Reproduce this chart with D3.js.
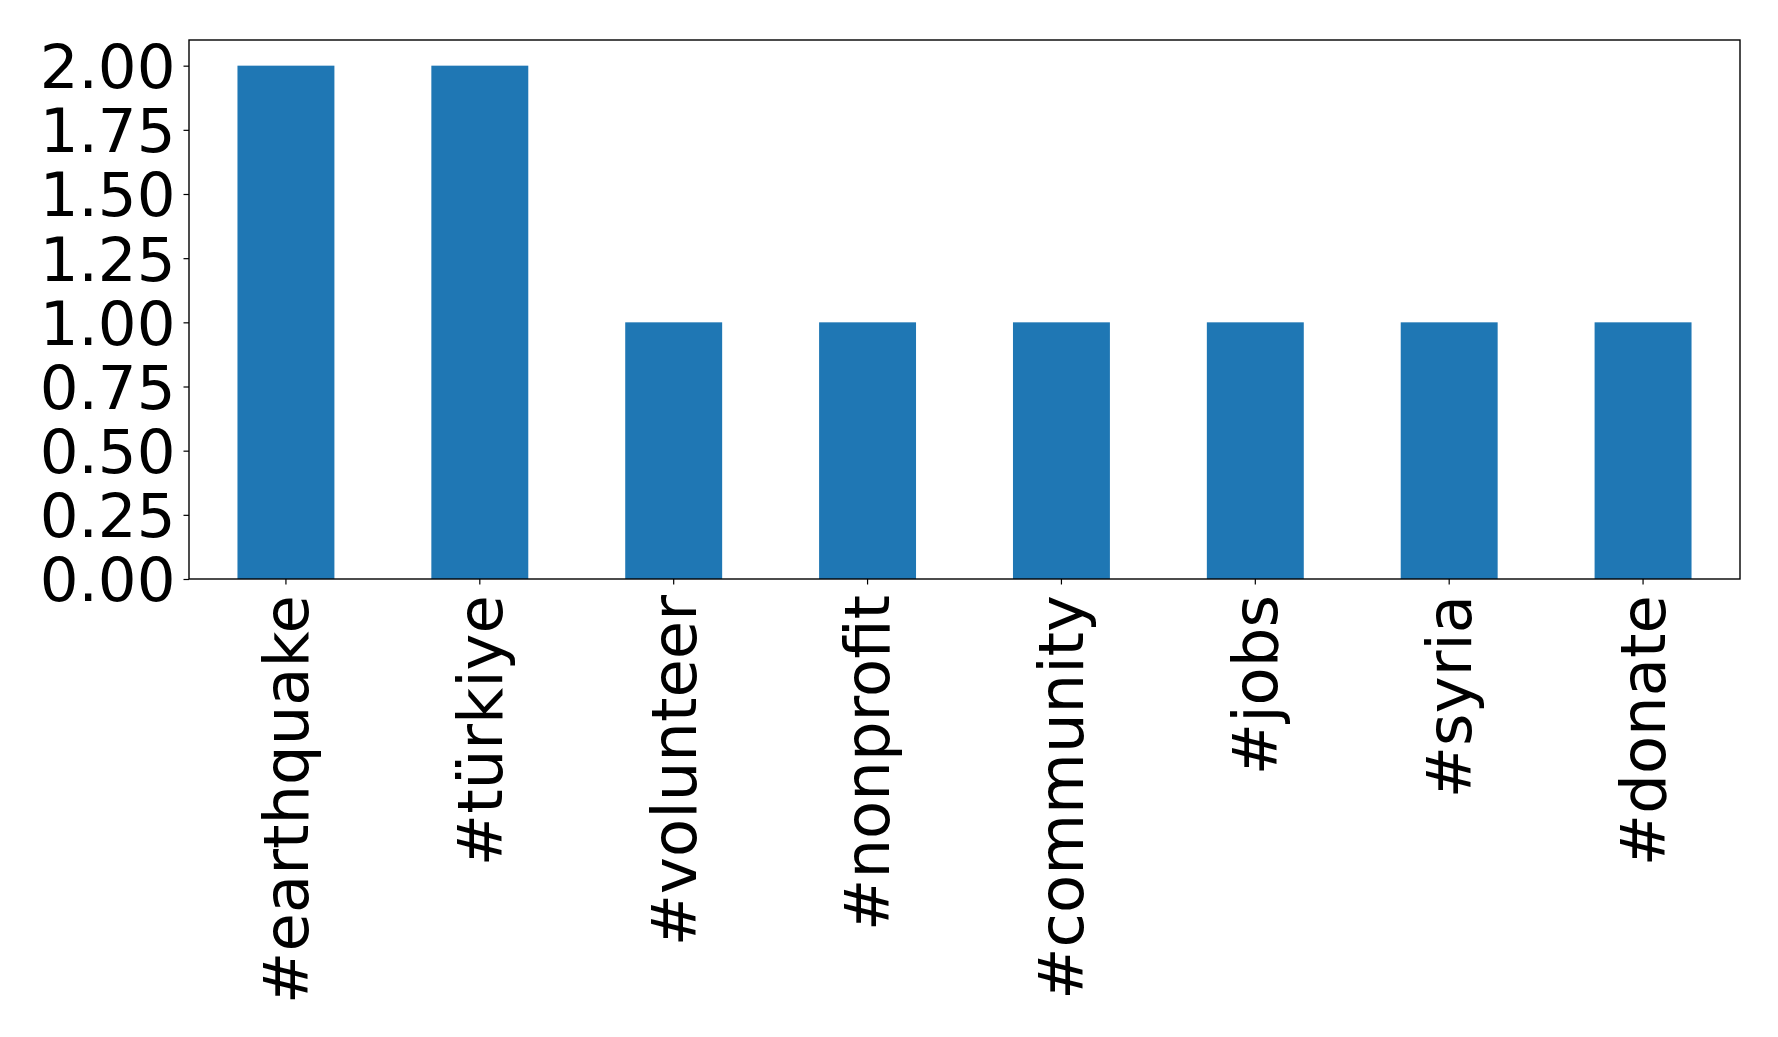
<!DOCTYPE html>
<html>
<head>
<meta charset="utf-8">
<script src="https://cdn.jsdelivr.net/npm/d3@7"></script>
<style>
  body { margin: 0; background: #fff; }
  text { font-family: "DejaVu Sans", sans-serif; fill: #000; }
</style>
</head>
<body>
<div id="chart"></div>
<script>
// hashtag counts
var categories = ["#earthquake", "#türkiye", "#volunteer", "#nonprofit", "#community", "#jobs", "#syria", "#donate"];
var counts = [2, 2, 1, 1, 1, 1, 1, 1];
var yTicks = [0, 0.25, 0.5, 0.75, 1, 1.25, 1.5, 1.75, 2];

var width = 1778,
    height = 1037;
var margin = {top: 40, right: 38, bottom: 458, left: 189};
var plotW = width - margin.left - margin.right,
    plotH = height - margin.top - margin.bottom;

var svg = d3.select("#chart").append("svg")
  .attr("width", width)
  .attr("height", height);

var g = svg.append("g")
  .attr("transform", "translate(" + margin.left + "," + margin.top + ")");

var x = d3.scaleBand()
  .domain(categories)
  .range([0, plotW])
  .paddingInner(0.5)
  .paddingOuter(0.25);

var y = d3.scaleLinear()
  .domain([0, 2.1])
  .range([plotH, 0]);

// bars
g.selectAll(".bar")
  .data(categories)
  .enter().append("rect")
  .attr("class", "bar")
  .attr("x", function(d) { return x(d); })
  .attr("width", x.bandwidth())
  .attr("y", function(d, i) { return y(counts[i]); })
  .attr("height", function(d, i) { return plotH - y(counts[i]); })
  .style("fill", "#1f77b4");

// y axis
var yAxis = g.append("g")
  .call(d3.axisLeft(y).tickValues(yTicks).tickFormat(d3.format(".2f")).tickSize(5.5).tickPadding(8));
yAxis.select(".domain").remove();
yAxis.selectAll("line").attr("stroke", "#000").attr("stroke-width", 1.2);
yAxis.selectAll("text")
  .attr("font-size", "61px")
  .attr("font-family", "DejaVu Sans")
  .attr("dy", "0.36em");

// x axis
var xAxis = g.append("g")
  .attr("transform", "translate(0," + plotH + ")")
  .call(d3.axisBottom(x).tickSize(5.5).tickPadding(0));
xAxis.select(".domain").remove();
xAxis.selectAll("line").attr("stroke", "#000").attr("stroke-width", 1.2);
xAxis.selectAll("text")
  .attr("font-size", "62.5px")
  .attr("font-family", "DejaVu Sans")
  .attr("text-anchor", "end")
  .attr("transform", "translate(0,16) rotate(-90)")
  .attr("x", 0)
  .attr("y", 0)
  .attr("dy", "0.35em");

// frame
g.append("rect")
  .attr("x", 0)
  .attr("y", 0)
  .attr("width", plotW)
  .attr("height", plotH)
  .style("fill", "none")
  .style("stroke", "#000")
  .style("stroke-width", 1.4);
</script>
</body>
</html>
